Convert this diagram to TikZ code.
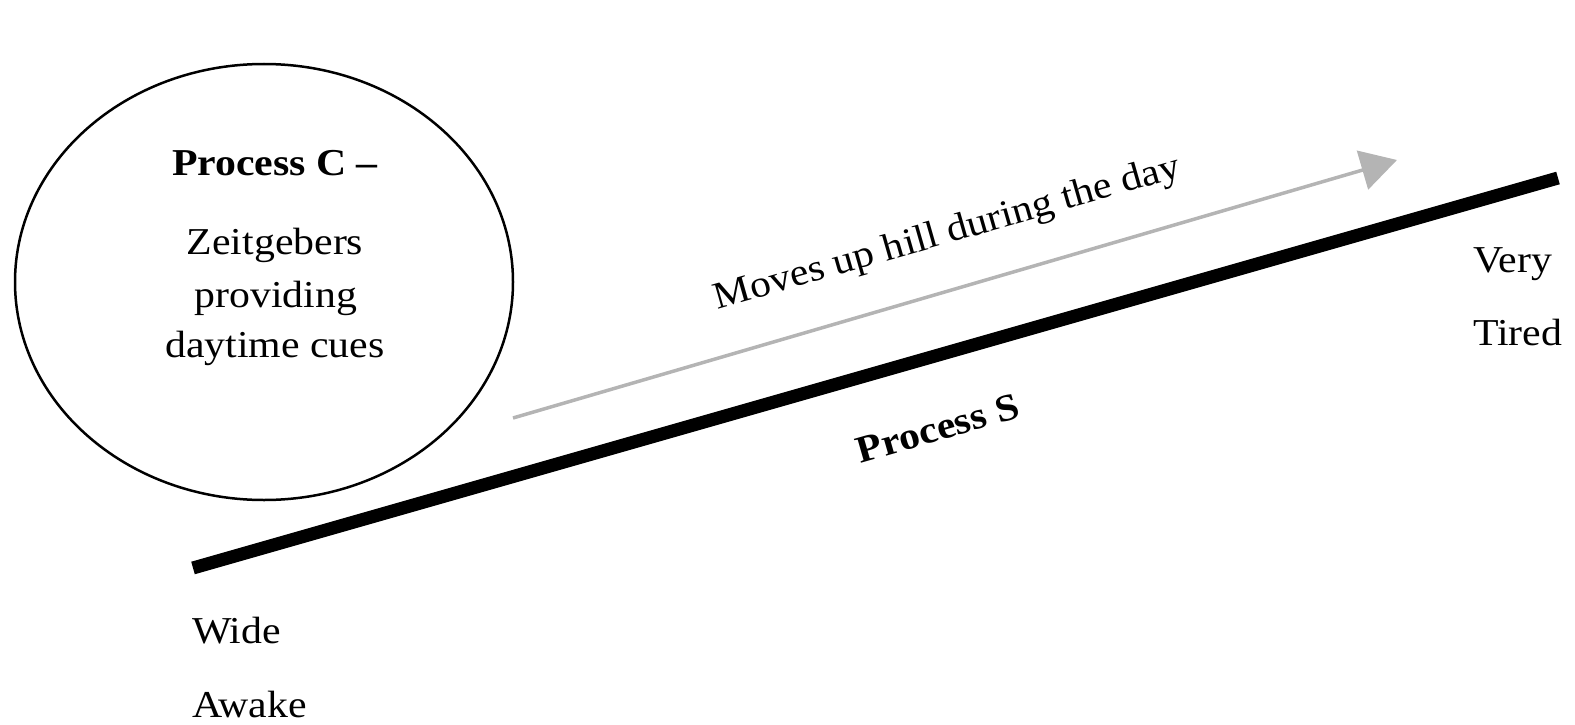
\documentclass[tikz,border=0pt]{standalone}
\usepackage{fontspec}
\setmainfont{Liberation Serif}[FakeStretch=1.1]
\usetikzlibrary{arrows.meta,shapes.geometric}
\definecolor{arrowgray}{RGB}{180,180,180}
\begin{document}
\begin{tikzpicture}[x=1pt,y=-1pt,
  lbl/.style={font=\fontsize{38}{52}\selectfont, inner sep=0pt, anchor=base},
  lblw/.style={lbl, anchor=base west},
  boldlbl/.style={lbl, font=\fontsize{38}{52}\selectfont\bfseries},
  procline/.style={line width=13pt, black},
  dayarrow/.style={line width=3.5pt, arrowgray, -{Triangle[length=36pt,width=40pt]}}]
\useasboundingbox (0,0) rectangle (1575,725);
\node (procC) [ellipse, draw, line width=2.5pt, minimum width=498pt, minimum height=436pt, inner sep=0pt] at (264,282) {};
\node (pc) [boldlbl] at (275,175) {Process C –};
\node (z1) [lbl] at (275,254) {Zeitgebers};
\node (z2) [lbl] at (276,307) {providing};
\node (z3) [lbl] at (275,357) {daytime cues};
\coordinate (aS) at (513,418);
\coordinate (aE) at (1397,160);
\draw[dayarrow] (aS) -- (aE);
\coordinate (wa) at (193,568);
\coordinate (vt) at (1558,178);
\draw[procline] (wa) -- (vt);
\node (mv) [lbl, rotate=16] at (950,243) {Moves up hill during the day};
\node (ps) [boldlbl, rotate=16] at (941,440) {Process S};
\node (very) [lblw] at (1473,272) {Very};
\node (tired) [lblw] at (1473,345) {Tired};
\node (wide) [lblw] at (192,643) {Wide};
\node (awake) [lblw] at (192,717) {Awake};
\end{tikzpicture}
\end{document}
